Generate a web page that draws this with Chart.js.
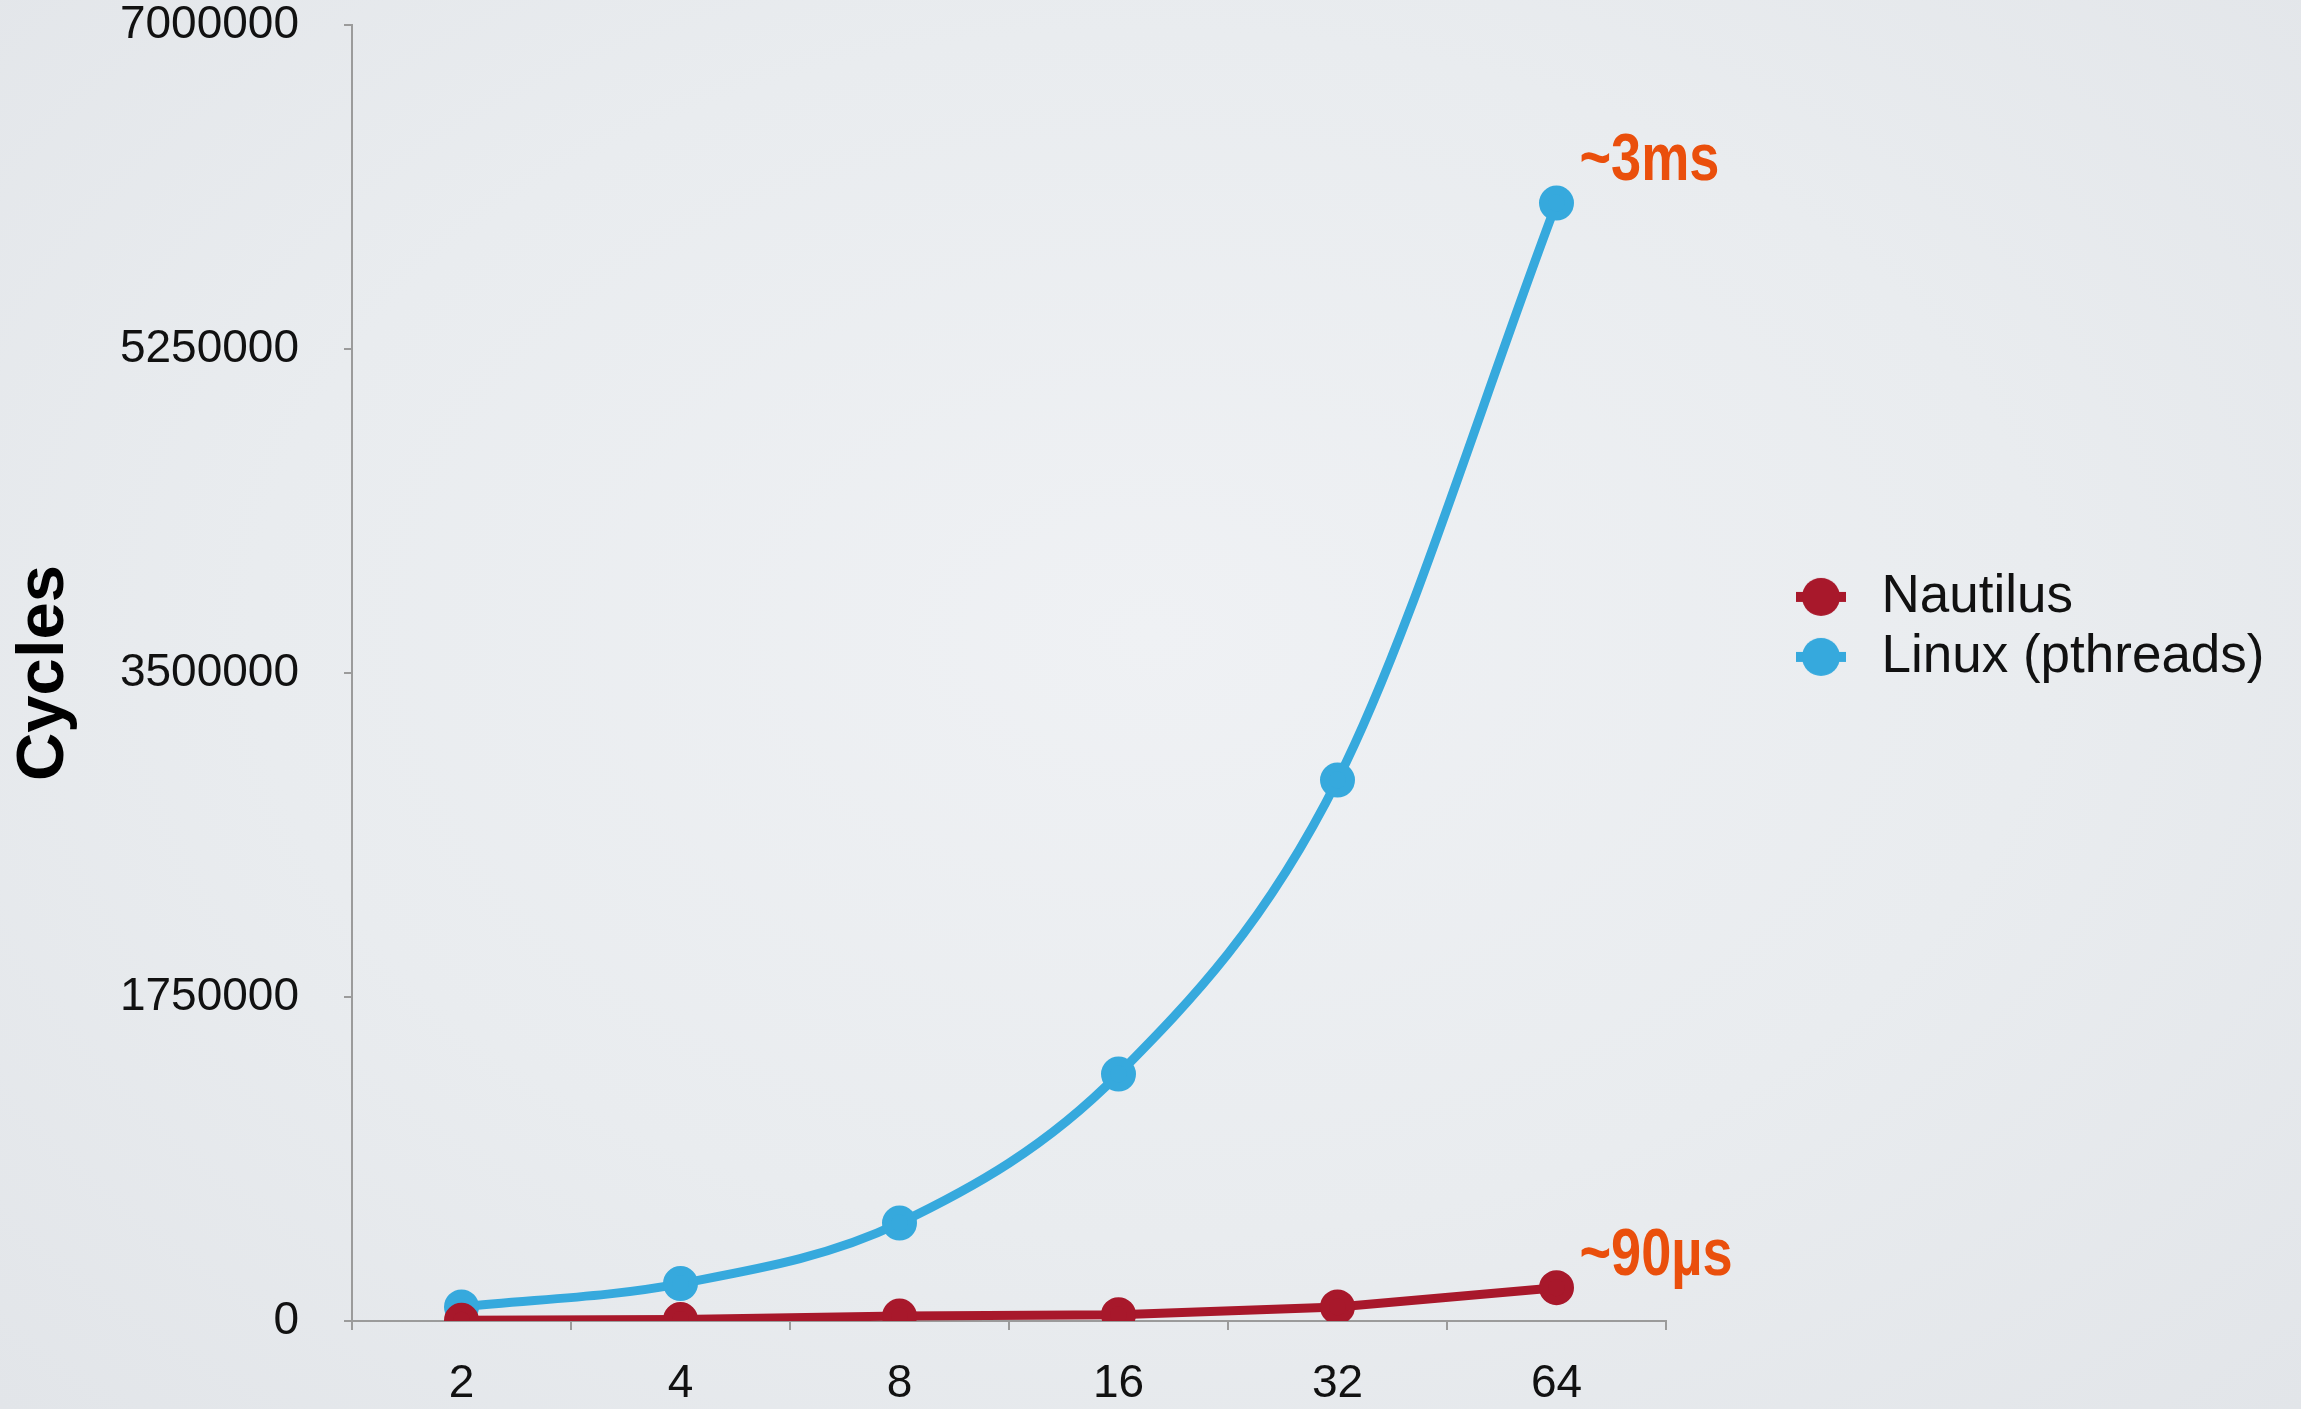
<!DOCTYPE html>
<html>
<head>
<meta charset="utf-8">
<script src="https://cdn.jsdelivr.net/npm/chart.js@4/dist/chart.umd.min.js"></script>
<style>
  html, body { margin: 0; padding: 0; }
  body {
    width: 2301px; height: 1409px; overflow: hidden;
    background: radial-gradient(ellipse at 50% 45%, #eff1f4 0%, #e9ecef 55%, #e2e5e9 100%);
  }
  #wrap { position: relative; width: 2301px; height: 1409px; }
</style>
</head>
<body>
<div id="wrap"><canvas id="cycles"></canvas></div>
<script>
// thread count on x, cycles on y
const threads = ["2", "4", "8", "16", "32", "64"];
const nautilus = [4000, 8000, 27000, 34000, 76000, 180000];
const linux = [76000, 202000, 529000, 1334000, 2922000, 6038000];
const yTicks = [0, 1750000, 3500000, 5250000, 7000000];
const endNotes = ["~90µs", "~3ms"];

const RED = "#a8182b";
const BLUE = "#36a9dd";
const GREY = "#9b9b9b";
const FONT = '"Liberation Sans", Arial, sans-serif';

// legend marker: short line with a dot, padded on the left so the text lands where it should
function marker(color) {
  const c = document.createElement("canvas");
  c.width = 182;
  c.height = 40;
  const g = c.getContext("2d");
  g.fillStyle = color;
  g.fillRect(123, 15, 50, 10);
  g.beginPath();
  g.arc(148, 20, 19, 0, Math.PI * 2);
  g.fill();
  return c;
}
const markers = [marker(RED), marker(BLUE)];

const endNotePlugin = {
  id: "endNotes",
  afterDatasetsDraw(chart) {
    const ctx = chart.ctx;
    const offsets = [[23, -13], [23, -23]];
    ctx.save();
    ctx.fillStyle = "#ea4f0c";
    ctx.font = 'bold 66px "Liberation Sans", Arial, sans-serif';
    ctx.textBaseline = "alphabetic";
    chart.data.datasets.forEach((ds, i) => {
      const meta = chart.getDatasetMeta(i);
      const pt = meta.data[meta.data.length - 1];
      ctx.save();
      ctx.translate(pt.x + offsets[i][0], pt.y + offsets[i][1]);
      ctx.scale(0.82, 1);
      ctx.fillText(endNotes[i], 0, 0);
      ctx.restore();
    });
    ctx.restore();
  },
};

new Chart(document.getElementById("cycles"), {
  type: "line",
  data: {
    labels: threads,
    datasets: [
      {
        label: "Nautilus",
        data: nautilus,
        borderColor: RED,
        backgroundColor: RED,
        borderWidth: 9,
        pointRadius: 13,
        pointHoverRadius: 13,
        tension: 0,
      },
      {
        label: "Linux (pthreads)",
        data: linux,
        borderColor: BLUE,
        backgroundColor: BLUE,
        borderWidth: 9,
        pointRadius: 13,
        pointHoverRadius: 13,
        cubicInterpolationMode: "monotone",
      },
    ],
  },
  options: {
    responsive: true,
    maintainAspectRatio: false,
    animation: false,
    layout: { padding: 0 },
    scales: {
      x: {
        type: "category",
        offset: true,
        grid: {
          offset: true,
          drawOnChartArea: false,
          drawTicks: true,
          tickLength: 9,
          color: GREY,
          lineWidth: 2,
        },
        border: { display: true, color: GREY, width: 2 },
        ticks: {
          color: "#111",
          padding: 27,
          font: { family: FONT, size: 46 },
        },
        afterFit(scale) {
          scale.height = 88;
          scale.paddingRight = 635;
        },
      },
      y: {
        min: 0,
        max: 7000000,
        grid: {
          drawOnChartArea: false,
          drawTicks: true,
          tickLength: 8,
          color: GREY,
          lineWidth: 2,
        },
        border: { display: true, color: GREY, width: 2 },
        afterBuildTicks(scale) {
          scale.ticks = yTicks.map((v) => ({ value: v }));
        },
        ticks: {
          color: "#111",
          padding: 45,
          font: { family: FONT, size: 46 },
          callback: (v) => String(v),
        },
        title: {
          display: true,
          text: "Cycles",
          color: "#000",
          font: { family: FONT, size: 67, weight: "bold", lineHeight: 1 },
          padding: { top: 11, bottom: 0 },
        },
        afterFit(scale) {
          scale.width = 352;
          scale.paddingTop = 25;
        },
      },
    },
    plugins: {
      tooltip: { enabled: false },
      legend: {
        position: "right",
        align: "start",
        maxWidth: 630,
        title: {
          display: true,
          text: " ",
          padding: { top: 549, bottom: 0 },
        },
        labels: {
          usePointStyle: true,
          pointStyleWidth: 182,
          padding: 7,
          color: "#111",
          font: { family: FONT, size: 53 },
          generateLabels(chart) {
            const items = Chart.defaults.plugins.legend.labels.generateLabels(chart);
            items.forEach((it) => {
              it.pointStyle = markers[it.datasetIndex];
            });
            return items;
          },
        },
      },
    },
  },
  plugins: [endNotePlugin],
});
</script>
</body>
</html>
